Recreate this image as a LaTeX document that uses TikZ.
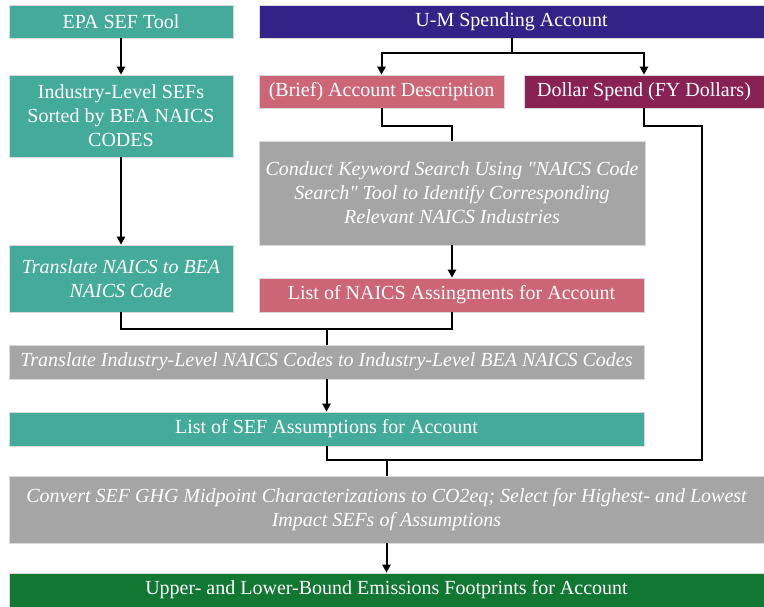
\documentclass[tikz,border=0pt]{standalone}
\usepackage{fontspec}
\setmainfont{Liberation Serif}
\usetikzlibrary{arrows.meta}
\definecolor{tealc}{HTML}{44AA99}
\definecolor{indigoc}{HTML}{332288}
\definecolor{rosec}{HTML}{CC6677}
\definecolor{winec}{HTML}{882255}
\definecolor{greenc}{HTML}{117733}
\definecolor{greyc}{HTML}{A5A5A5}
\tikzset{
  box/.style={inner sep=0pt, text=white, align=center, draw=white!85!black, line width=0.6pt,
    font=\fontsize{20}{24}\selectfont},
  wire/.style={line width=2pt, draw=black},
  arr/.style={wire, -{Triangle[length=8pt,width=8pt]}},
}
\begin{document}
\begin{tikzpicture}[x=1pt,y=-1pt]
\useasboundingbox (0,0) rectangle (764,607);
% top row
\node[box, fill=tealc, minimum width=224pt, minimum height=33pt] (epa) at (121,21.5){EPA SEF Tool};
\node[box, fill=indigoc, minimum width=505pt, minimum height=33pt] (um) at (511.5,21.5){U-M Spending Account};
% second row
\node[box, fill=tealc, minimum width=224pt, minimum height=82pt] (ind) at (121,116){Industry-Level SEFs\\Sorted by BEA NAICS\\CODES};
\node[box, fill=rosec, minimum width=245pt, minimum height=33pt] (brief) at (381.5,91.5){(Brief) Account Description};
\node[box, fill=winec, minimum width=240pt, minimum height=33pt] (dollar) at (644,91.5){Dollar Spend (FY Dollars)};
% keyword search
\node[box, fill=greyc, minimum width=386pt, minimum height=104pt, font=\fontsize{20}{24}\selectfont\itshape] (conduct) at (452,193){Conduct Keyword Search Using \textquotedbl NAICS Code\\Search\textquotedbl{} Tool to Identify Corresponding\\Relevant NAICS Industries};
\node[box, fill=tealc, minimum width=224pt, minimum height=67pt, font=\fontsize{20}{24}\selectfont\itshape] (transl) at (121,278.5){Translate NAICS to BEA\\NAICS Code};
\node[box, fill=rosec, minimum width=385pt, minimum height=34pt] (naics) at (451.5,295){List of NAICS Assingments for Account};
% lower part
\node[box, fill=greyc, minimum width=635pt, minimum height=34pt, font=\fontsize{20}{24}\selectfont\itshape] (indus) at (326.5,362){Translate Industry-Level NAICS Codes to Industry-Level BEA NAICS Codes};
\node[box, fill=tealc, minimum width=635pt, minimum height=34pt] (sef) at (326.5,429){List of SEF Assumptions for Account};
\node[box, fill=greyc, minimum width=755pt, minimum height=67pt, font=\fontsize{20}{24}\selectfont\itshape] (conv) at (386.5,509.5){Convert SEF GHG Midpoint Characterizations to CO2eq; Select for Highest- and Lowest\\Impact SEFs of Assumptions};
\node[box, fill=greenc, minimum width=755pt, minimum height=34pt] (upper) at (386.5,590){Upper- and Lower-Bound Emissions Footprints for Account};
% junctions
\coordinate (umj) at (511.5,53);
\coordinate (bj) at (452,126);
\coordinate (dj) at (702,126);
\coordinate (tj) at (326.5,329);
\coordinate (sj) at (326.5,460);
\coordinate (cj) at (386.5,460);
% connectors
\draw[arr] (epa) -- (ind);
\draw[arr] (ind) -- (transl);
\draw[wire] (um.south) -- (umj);
\draw[arr] (umj) -| (brief.north);
\draw[arr] (umj) -| (dollar.north);
\draw[wire] (brief.south) |- (bj) -- (conduct.north);
\draw[arr] (conduct.south) -- (conduct.south |- naics.north);
\draw[wire] (transl.south) |- (tj);
\draw[wire] (naics.south) |- (tj) -- (indus.north);
\draw[arr] (indus) -- (sef);
\draw[wire] (dollar.south) |- (dj) |- (sj) -- (sef.south);
\draw[wire] (cj) -- (conv.north);
\draw[arr] (conv) -- (upper);
\end{tikzpicture}
\end{document}
